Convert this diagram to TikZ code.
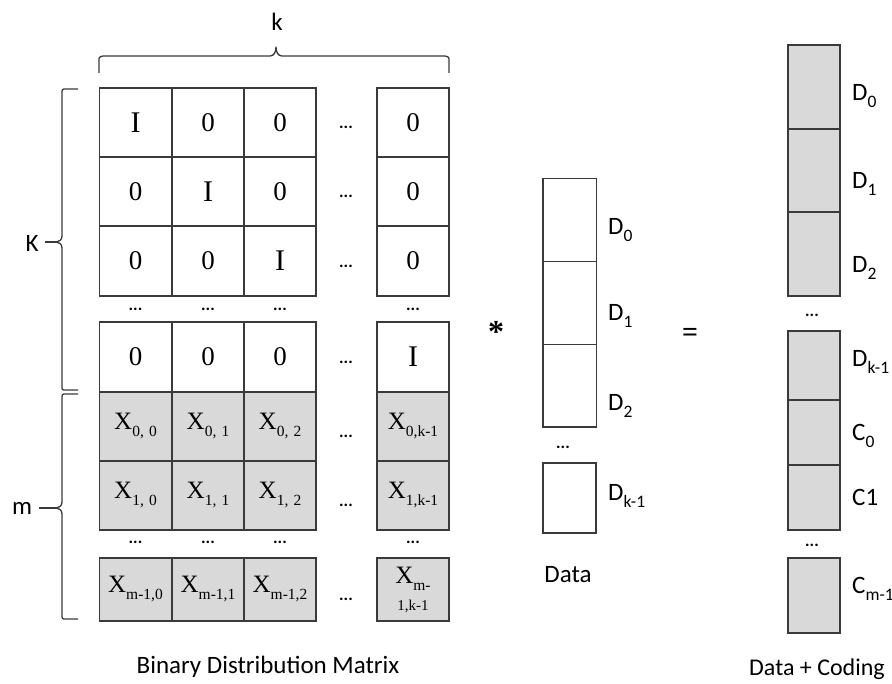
\documentclass[tikz,border=0pt]{standalone}
\usepackage{fontspec}
\setmainfont{Liberation Serif}
\newfontfamily\labfont{Carlito}
\newcommand{\lsub}[1]{\raisebox{-0.28em}{\scalebox{0.62}{#1}}}
\newcommand{\dsub}[1]{\raisebox{-0.25em}{\scalebox{0.7}{#1}}}
\definecolor{lc}{HTML}{3A3A3A}
\definecolor{gy}{HTML}{D9D9D9}
\begin{document}
\begin{tikzpicture}[x=1pt,y=-1pt,
  cellw/.style={draw=lc, line width=1.4pt, minimum width=72pt, inner sep=0pt, font=\fontsize{27}{27}\selectfont},
  cellg/.style={cellw, fill=gy, font=\fontsize{25}{25}\selectfont},
  ident/.style={cellw, font=\fontsize{30}{30}\selectfont},
  vecw/.style={draw=lc, line width=1pt, minimum width=53pt, inner sep=0pt},
  vecg/.style={draw=lc, line width=1.4pt, fill=gy, minimum width=52pt, inner sep=0pt},
  lab/.style={font=\labfont\fontsize{25}{25}\selectfont, inner sep=0pt},
  vlab/.style={lab, anchor=west},
  dots/.style={font=\labfont\bfseries\fontsize{17}{17}\selectfont, inner sep=0pt},
  brace/.style={draw=lc, line width=1.3pt, line join=round}
]
\useasboundingbox (0,0) rectangle (892,684);

% ---------- matrix, block 1 ----------
\node[ident, minimum height=69pt] (a11) at (135.5,122.5) {I};
\node[cellw, minimum height=69pt] (a12) at (208,122.5) {0};
\node[cellw, minimum height=69pt] (a13) at (280,122.5) {0};
\node[cellw, minimum height=69pt] (a14) at (413,122.5) {0};
\node[cellw, minimum height=69pt] (a21) at (135.5,191.5) {0};
\node[ident, minimum height=69pt] (a22) at (208,191.5) {I};
\node[cellw, minimum height=69pt] (a23) at (280,191.5) {0};
\node[cellw, minimum height=69pt] (a24) at (413,191.5) {0};
\node[cellw, minimum height=70pt] (a31) at (135.5,261) {0};
\node[cellw, minimum height=70pt] (a32) at (208,261) {0};
\node[ident, minimum height=70pt] (a33) at (280,261) {I};
\node[cellw, minimum height=70pt] (a34) at (413,261) {0};
% ---------- block 2 ----------
\node[cellw, minimum height=70pt] (a41) at (135.5,357) {0};
\node[cellw, minimum height=70pt] (a42) at (208,357) {0};
\node[cellw, minimum height=70pt] (a43) at (280,357) {0};
\node[ident, minimum height=70pt] (a44) at (413,357) {I};
\node[cellg, minimum height=69pt] (a51) at (135.5,426.5) {X\lsub{0,\,\,0}};
\node[cellg, minimum height=69pt] (a52) at (208,426.5) {X\lsub{0,\,\,1}};
\node[cellg, minimum height=69pt] (a53) at (280,426.5) {X\lsub{0,\,\,2}};
\node[cellg, minimum height=69pt] (a54) at (413,426.5) {X\lsub{0,k-1}};
\node[cellg, minimum height=69pt] (a61) at (135.5,495.5) {X\lsub{1,\,\,0}};
\node[cellg, minimum height=69pt] (a62) at (208,495.5) {X\lsub{1,\,\,1}};
\node[cellg, minimum height=69pt] (a63) at (280,495.5) {X\lsub{1,\,\,2}};
\node[cellg, minimum height=69pt] (a64) at (413,495.5) {X\lsub{1,k-1}};
% ---------- block 3 ----------
\node[cellg, minimum height=63pt] (a71) at (135.5,589.5) {X\lsub{m-1,0}};
\node[cellg, minimum height=63pt] (a72) at (208,589.5) {X\lsub{m-1,1}};
\node[cellg, minimum height=63pt] (a73) at (280,589.5) {X\lsub{m-1,2}};
\node[cellg, minimum height=63pt, align=center] (a74) at (413,589.5) {X\lsub{m-}\\[2pt]{\fontsize{15}{15}\selectfont 1,k-1}};

% row dots
\node[dots] (h1) at (346,127) {...};
\node[dots] (h2) at (346,196) {...};
\node[dots] (h3) at (346,266) {...};
\node[dots] (h4) at (346,362) {...};
\node[dots] (h5) at (346,436) {...};
\node[dots] (h6) at (346,505) {...};
\node[dots] (h7) at (346,599) {...};
% column dots
\node[dots] (v1) at (135.5,309) {...};
\node[dots] (v2) at (208,309) {...};
\node[dots] (v3) at (280,309) {...};
\node[dots] (v4) at (413,309) {...};
\node[dots] (w1) at (135.5,542) {...};
\node[dots] (w2) at (208,542) {...};
\node[dots] (w3) at (280,542) {...};
\node[dots] (w4) at (413,542) {...};

% ---------- braces ----------
\draw[brace] (99,73) -- (99,61) .. controls (99,57) .. (103,56) -- (270,56)
  .. controls (274,56) and (276,52) .. (276,47)
  .. controls (276,52) and (278,56) .. (282,56) -- (445,56)
  .. controls (449,57) .. (449,61) -- (449,73);
\node[lab] (k) at (277,22) {k};

\draw[brace] (78,89) -- (66,89) .. controls (62,89) .. (62,94) -- (62,236)
  .. controls (62,240) and (59,242) .. (56,242)
  .. controls (59,242) and (62,244) .. (62,248) -- (62,386)
  .. controls (62,390) .. (66,390) -- (78,390);
\node[lab] (K) at (32,243) {K};
\draw[brace] (K.east) ++(6,-1) coordinate (kt) -- (56,242);

\draw[brace] (78,394) -- (66,394) .. controls (62,394) .. (62,399) -- (62,502)
  .. controls (62,506) and (59,508) .. (56,508)
  .. controls (59,508) and (62,510) .. (62,514) -- (62,614)
  .. controls (62,619) .. (66,619) -- (78,619);
\node[lab] (m) at (22,508) {m};
\draw[brace] (m.east) ++(7,0) coordinate (mt) -- (56,508);

\node[lab] (bdm) at (268,667) {Binary Distribution Matrix};

% ---------- operators ----------
\node[font=\bfseries\fontsize{32}{32}\selectfont, inner sep=0pt] (star) at (496,332) {*};
\node[font=\bfseries\fontsize{28}{28}\selectfont, inner sep=0pt] (eq) at (690,335) {=};

% ---------- data vector ----------
\node[vecw, minimum height=83pt] (d0) at (569.5,220.5) {};
\node[vecw, minimum height=83pt] (d1) at (569.5,303.5) {};
\node[vecw, minimum height=82pt] (d2) at (569.5,386) {};
\draw[draw=lc, line width=1.4pt] (d0.north west) rectangle (d2.south east);
\node[dots] (dd) at (563,447) {...};
\node[vecw, line width=1.4pt, minimum height=70pt] (dk) at (569.5,498) {};
\node[vlab] (ld0) at (608,230) {D\dsub{0}};
\node[vlab] (ld1) at (608,316) {D\dsub{1}};
\node[vlab] (ld2) at (608,406) {D\dsub{2}};
\node[vlab] (ldk) at (608,496) {D\dsub{k-1}};
\node[lab] (data) at (568,575) {Data};

% ---------- data + coding vector ----------
\node[vecg, minimum height=84pt] (r0) at (814,87) {};
\node[vecg, minimum height=83pt] (r1) at (814,170.5) {};
\node[vecg, minimum height=84pt] (r2) at (814,254) {};
\node[dots] (rd1) at (812,315) {...};
\node[vecg, minimum height=69pt] (rk) at (814,365.5) {};
\node[vecg, minimum height=65pt] (c0) at (814,432.5) {};
\node[vecg, minimum height=65pt] (c1) at (814,497.5) {};
\node[dots] (rd2) at (812,545) {...};
\node[vecg, minimum height=75pt] (cm) at (814,595.5) {};
\node[vlab] (lr0) at (852,96) {D\dsub{0}};
\node[vlab] (lr1) at (852,184) {D\dsub{1}};
\node[vlab] (lr2) at (852,268) {D\dsub{2}};
\node[vlab] (lrk) at (852,362) {D\dsub{k-1}};
\node[vlab] (lc0) at (852,436) {C\dsub{0}};
\node[vlab] (lc1) at (852,497) {C1};
\node[vlab] (lcm) at (852,589) {C\dsub{m-1}};
\node[lab, font=\labfont\fontsize{24}{24}\selectfont] (dc) at (817,669) {Data + Coding};
\end{tikzpicture}
\end{document}
